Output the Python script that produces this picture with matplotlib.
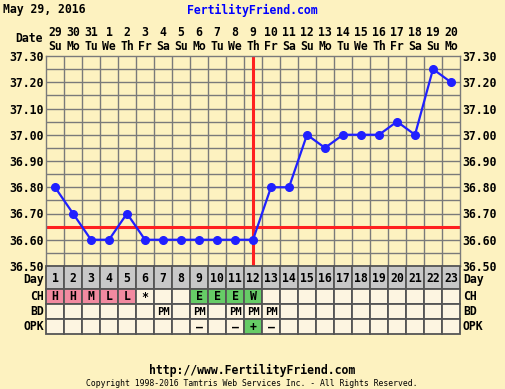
import matplotlib
matplotlib.use("Agg")
import matplotlib.pyplot as plt
import numpy as np

days = list(range(1, 24))
temps = [36.80, 36.70, 36.60, 36.60, 36.70, 36.60, 36.60, 36.60, 36.60, 36.60, 36.60, 36.60,
         36.80, 36.80, 37.00, 36.95, 37.00, 37.00, 37.00, 37.05, 37.00, 37.25, 37.20]
dates = ["29", "30", "31", "1", "2", "3", "4", "5", "6", "7", "8", "9", "10", "11", "12",
         "13", "14", "15", "16", "17", "18", "19", "20"]
weekdays = ["Su", "Mo", "Tu", "We", "Th", "Fr", "Sa", "Su", "Mo", "Tu", "We", "Th", "Fr",
            "Sa", "Su", "Mo", "Tu", "We", "Th", "Fr", "Sa", "Su", "Mo"]
cm = ["H", "H", "M", "L", "L", "*", "", "", "E", "E", "E", "W"] + [""] * 11
bd = ["", "", "", "", "", "", "PM", "", "PM", "", "PM", "PM", "PM"] + [""] * 10
opk = ["", "", "", "", "", "", "", "", "\u2013", "", "\u2013", "+", "\u2013"] + [""] * 10
coverline = 36.65
ovulation_day = 12
yticks = [36.50, 36.60, 36.70, 36.80, 36.90, 37.00, 37.10, 37.20, 37.30]

W, H = 506, 389
bg = "#fdf2c0"
cell_bg = "#fdf5e1"
pink = "#f28aa0"
green = "#66cc66"
grey = "#c8c8c8"
mono = "DejaVu Sans Mono"
fs = 8.3

fig = plt.figure(figsize=(W / 100, H / 100), dpi=100, facecolor=bg)

def fx(px):
    return px / W

def fy(py):
    return 1 - py / H

# main temperature chart
left, right, top, bottom = 46, 460, 56, 266
ax = fig.add_axes([fx(left), fy(bottom), fx(right - left), (bottom - top) / H])
ax.set_facecolor(bg)
ax.set_xlim(0.5, 23.5)
ax.set_ylim(36.50, 37.30)
for x in np.arange(1.5, 23.5, 1):
    ax.axvline(x, color="#7a7a7a", lw=1, zorder=1)
for y in np.arange(36.55, 37.30, 0.05):
    ax.axhline(y, color="#7a7a7a", lw=1, zorder=1)
ax.axhline(coverline, color="#ff2020", lw=2.2, zorder=2)
ax.axvline(ovulation_day, color="#ff2020", lw=2.2, zorder=2)
ax.plot(days, temps, color="#2020ff", lw=1.6, marker="o", ms=5.5, zorder=3)
ax.set_xticks([])
ax.set_yticks(yticks)
ax.set_yticklabels([f"{t:.2f}" for t in yticks], fontfamily=mono, fontweight="bold", fontsize=fs)
ax.tick_params(axis="y", length=0, pad=2, labelright=True)
for s in ax.spines.values():
    s.set_color("#7a7a7a")
    s.set_linewidth(1)

# date header
for d, dt, wd in zip(days, dates, weekdays):
    xp = left + (d - 0.5) * 18
    fig.text(fx(xp), fy(33), dt, ha="center", va="center", fontfamily=mono,
             fontweight="bold", fontsize=fs)
    fig.text(fx(xp), fy(46), wd, ha="center", va="center", fontfamily=mono,
             fontweight="bold", fontsize=fs)
fig.text(fx(43), fy(39), "Date", ha="right", va="center", fontfamily=mono,
         fontweight="bold", fontsize=fs)

# table below
tb = fig.add_axes([fx(left), fy(333), fx(right - left), 67 / H])
tb.set_xlim(0.5, 23.5)
tb.set_ylim(67, 0)
tb.axis("off")
rows = [("Day", 0, 23), ("CH", 23, 15), ("BD", 38, 15), ("OPK", 53, 15)]
for i, d in enumerate(days):
    cols = [grey,
            pink if i < 5 else (green if 8 <= i <= 11 else cell_bg),
            cell_bg,
            green if opk[i] == "+" else cell_bg]
    texts = [str(d), cm[i], bd[i], opk[i]]
    for (name, y0, h), c, t in zip(rows, cols, texts):
        tb.add_patch(plt.Rectangle((d - 0.5, y0), 1, h, facecolor=c, edgecolor="#555555",
                                   lw=1.3, clip_on=False))
        if t:
            tb.text(d, y0 + h / 2 + 0.5, t, ha="center", va="center", fontfamily=mono,
                    fontweight="bold", fontsize=fs if name != "BD" else 7.6)
for name, y0, h in rows:
    yp = 266 + y0 + h / 2
    if name == "Day":
        yp += 2
    fig.text(fx(44), fy(yp), name, ha="right", va="center", fontfamily=mono,
             fontweight="bold", fontsize=fs)
    fig.text(fx(463), fy(yp), name, ha="left", va="center", fontfamily=mono,
             fontweight="bold", fontsize=fs)

# titles and footer
fig.text(fx(3), fy(10), "May 29, 2016", ha="left", va="center", fontfamily=mono,
         fontweight="bold", fontsize=fs)
fig.text(fx(252), fy(10), "FertilityFriend.com", ha="center", va="center", fontfamily=mono,
         fontweight="bold", fontsize=fs, color="#0000ff")
fig.text(fx(252), fy(370), "http://www.FertilityFriend.com", ha="center", va="center",
         fontfamily=mono, fontweight="bold", fontsize=fs)
fig.text(fx(252), fy(384), "Copyright 1998-2016 Tamtris Web Services Inc. - All Rights Reserved.",
         ha="center", va="center", fontfamily=mono, fontsize=5.9)

fig.savefig("out.png", dpi=100, facecolor=bg)
